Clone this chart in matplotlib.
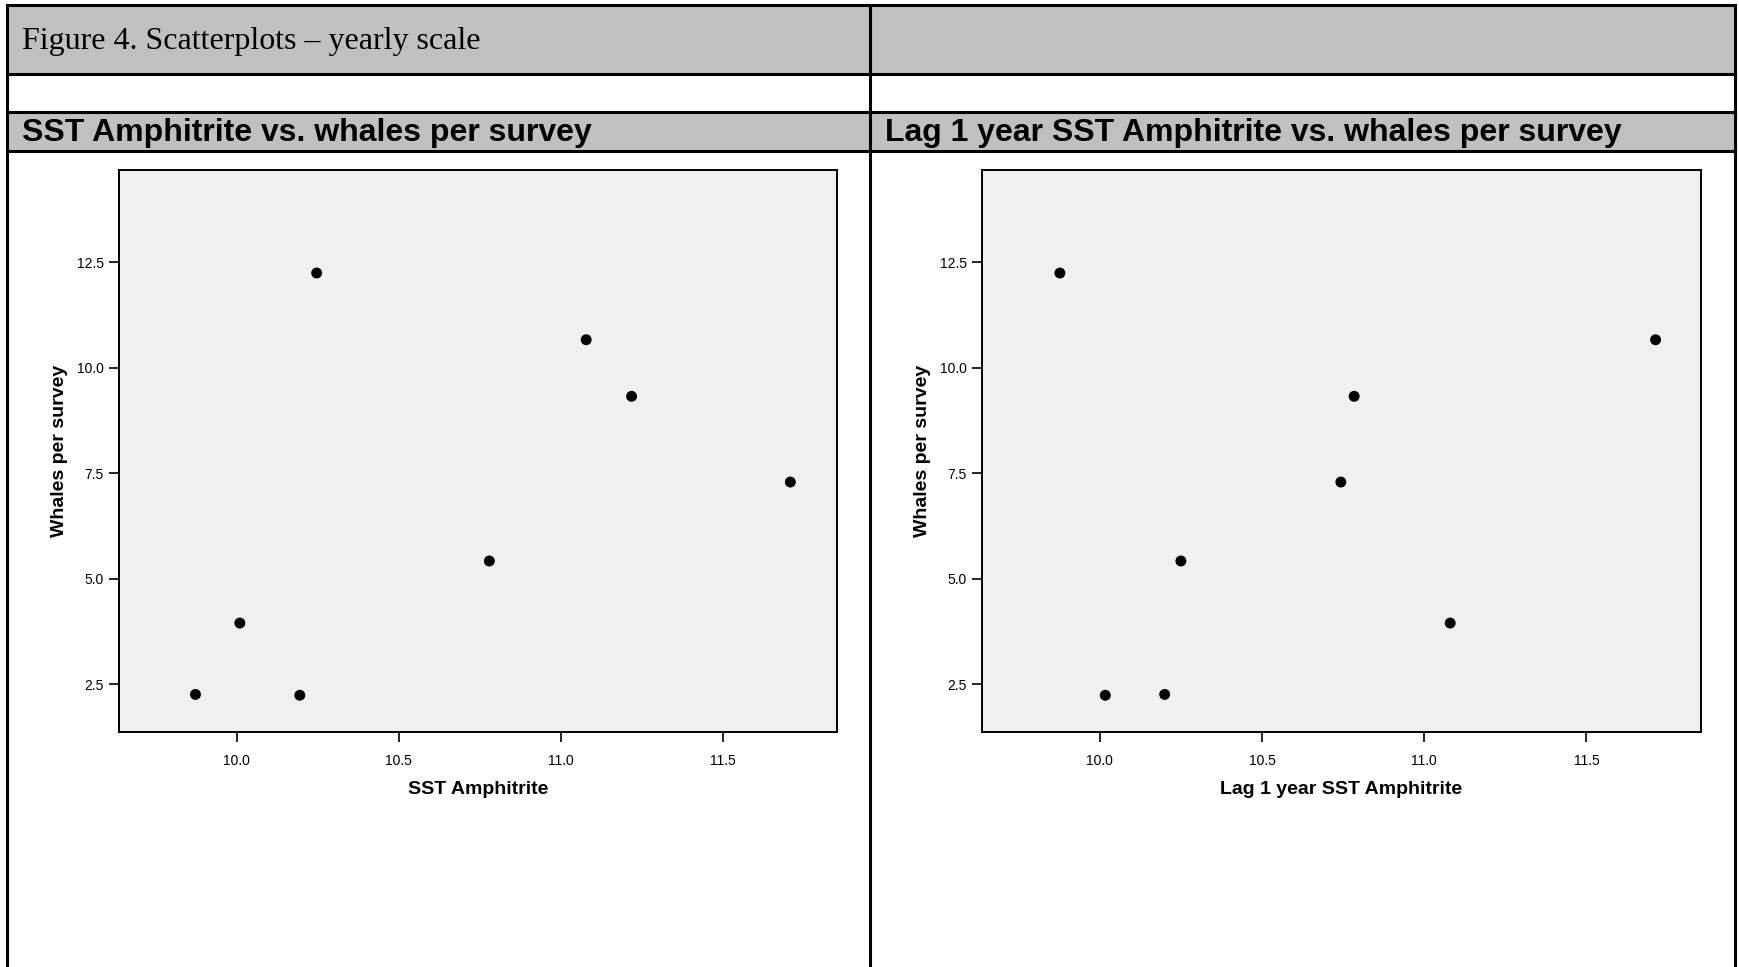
import numpy as np
import matplotlib.pyplot as plt
from matplotlib.patches import Rectangle
from matplotlib.lines import Line2D

# data read from the two scatterplots
sst = [9.873, 10.01, 10.195, 10.247, 10.78, 11.079, 11.219, 11.709]
whales = [2.26, 3.95, 2.24, 12.24, 5.42, 10.66, 9.32, 7.29]

sst_lag = [9.877, 10.017, 10.2, 10.25, 10.743, 10.784, 11.08, 11.713]
whales_lag = [12.24, 2.24, 2.26, 5.42, 7.29, 9.32, 3.95, 10.66]

fig_title = 'Figure 4. Scatterplots – yearly scale'
panel_titles = ['SST Amphitrite vs. whales per survey',
                'Lag 1 year SST Amphitrite vs. whales per survey']
x_labels = ['SST Amphitrite', 'Lag 1 year SST Amphitrite']
y_label = 'Whales per survey'
x_ticks = [10.0, 10.5, 11.0, 11.5]
y_ticks = [2.5, 5.0, 7.5, 10.0, 12.5]

W, H = 1740, 967
fig = plt.figure(figsize=(W / 100, H / 100), dpi=100)


def fx(px):
    return px / W


def fy(py):
    return 1 - py / H


# table background rows
grey = '#c0c0c0'
for top, bot in [(5, 74), (112, 151)]:
    fig.patches.append(Rectangle((fx(7), fy(bot)), fx(1735) - fx(7), fy(top) - fy(bot),
                                 transform=fig.transFigure, facecolor=grey,
                                 edgecolor='none', zorder=0))

# table grid lines
lw = 2.2
for py in [5, 74, 112, 151]:
    fig.lines.append(Line2D([fx(7), fx(1735)], [fy(py), fy(py)], transform=fig.transFigure,
                            color='black', lw=lw))
for px in [7, 870, 1735]:
    fig.lines.append(Line2D([fx(px), fx(px)], [fy(5), 0], transform=fig.transFigure,
                            color='black', lw=lw))

fig.text(fx(22), fy(42), fig_title, family='Liberation Serif', fontsize=23,
         va='center', ha='left')
fig.text(fx(22), fy(133), panel_titles[0], family='Liberation Sans', fontsize=23,
         fontweight='bold', va='center', ha='left')
fig.text(fx(885), fy(133), panel_titles[1], family='Liberation Sans', fontsize=23,
         fontweight='bold', va='center', ha='left')

panels = [(119, 837, sst, whales, x_labels[0]),
          (982, 1701, sst_lag, whales_lag, x_labels[1])]
top, bottom = 170, 732

for left, right, xs, ys, xl in panels:
    ax = fig.add_axes([fx(left), fy(bottom), fx(right) - fx(left), fy(top) - fy(bottom)])
    ax.set_facecolor('#f0f0f0')
    ax.scatter(xs, ys, s=62, color='black', edgecolors='none', zorder=3)
    ax.set_xlim(9.637, 11.853)
    ax.set_ylim(1.37, 14.68)
    ax.set_xticks(x_ticks)
    ax.set_yticks(y_ticks)
    ax.set_xticklabels([f'{t:.1f}' for t in x_ticks], family='Liberation Sans', fontsize=10)
    ax.set_yticklabels([f'{t:.1f}' for t in y_ticks], family='Liberation Sans', fontsize=10)
    ax.tick_params(direction='out', length=7, width=1.2, color='black')
    ax.tick_params(axis='x', pad=9)
    ax.tick_params(axis='y', pad=4)
    for s in ax.spines.values():
        s.set_linewidth(1.4)
        s.set_color('black')
    ax.set_xlabel(xl, family='Liberation Sans', fontsize=14, fontweight='bold', labelpad=9)
    ax.set_ylabel(y_label, family='Liberation Sans', fontsize=14, fontweight='bold', labelpad=6)

fig.savefig('out.png', dpi=100)
